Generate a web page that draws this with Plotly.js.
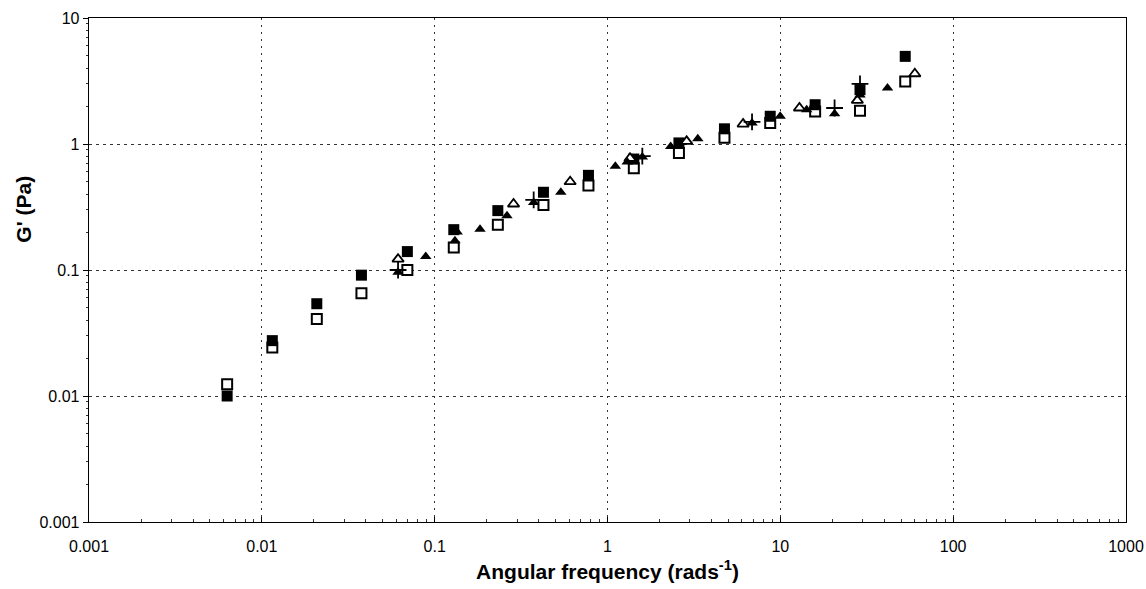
<!DOCTYPE html>
<html>
<head>
<meta charset="utf-8">
<script src="https://cdn.plot.ly/plotly-3.0.1.min.js"></script>
<style>
  html, body { margin: 0; padding: 0; background: #fff; }
  #chart { width: 1146px; height: 589px; }
</style>
</head>
<body>
<div id="chart"></div>
<script>
// Storage modulus G' against angular frequency, five sample runs.
const filledSquareFreq = [0.0063, 0.0115, 0.0208, 0.0377, 0.0695, 0.129, 0.232, 0.426, 0.776, 1.42, 2.59, 4.75, 8.74, 15.9, 28.9, 52.8];
const filledSquareG = [0.0100, 0.0275, 0.054, 0.091, 0.140, 0.209, 0.296, 0.414, 0.564, 0.76, 1.02, 1.32, 1.66, 2.05, 2.70, 4.96];

const openSquareFreq = [0.0063, 0.0115, 0.0208, 0.0377, 0.0695, 0.129, 0.232, 0.426, 0.776, 1.42, 2.59, 4.75, 8.74, 15.9, 28.9, 52.8];
const openSquareG = [0.0124, 0.0243, 0.0408, 0.0653, 0.100, 0.151, 0.229, 0.328, 0.469, 0.641, 0.848, 1.12, 1.47, 1.81, 1.84, 3.14];

const filledTriFreq = [0.0614, 0.0888, 0.131, 0.135, 0.183, 0.262, 0.374, 0.537, 1.11, 1.30, 1.59, 2.32, 3.33, 6.86, 9.98, 14.2, 20.6, 28.9, 41.7];
const filledTriG = [0.096, 0.128, 0.171, 0.200, 0.211, 0.270, 0.344, 0.414, 0.665, 0.72, 0.79, 0.957, 1.10, 1.47, 1.66, 1.87, 1.74, 2.45, 2.78];

const openTriFreq = [0.0614, 0.286, 0.608, 1.35, 2.87, 6.09, 12.9, 27.9, 60.0];
const openTriG = [0.122, 0.334, 0.502, 0.77, 1.05, 1.44, 1.93, 2.22, 3.61];

const plusFreq = [0.0614, 0.374, 1.59, 6.86, 20.6, 28.9];
const plusG = [0.100, 0.360, 0.80, 1.50, 1.93, 3.00];

const xTickVals = [0.001, 0.01, 0.1, 1, 10, 100, 1000];
const xTickText = ['0.001', '0.01', '0.1', '1', '10', '100', '1000'];
const yTickVals = [0.001, 0.01, 0.1, 1, 10];
const yTickText = ['0.001', '0.01', '0.1', '1', '10'];

// minor ticks at 2..9 within each decade
function minorTicks(lo, hi) {
  const out = [];
  for (let e = lo; e < hi; e++) {
    for (let m = 2; m <= 9; m++) out.push(m * Math.pow(10, e));
  }
  return out;
}

const FONT = 'Liberation Sans, Arial, sans-serif';

function series(x, y, symbol, size, fill, lineW) {
  return {
    x: x, y: y, type: 'scatter', mode: 'markers', showlegend: false,
    marker: { symbol: symbol, size: size, color: fill, line: { color: '#000', width: lineW } },
    hoverinfo: 'x+y'
  };
}

const traces = [
  series(openSquareFreq, openSquareG, 'square', 10, '#fff', 2),
  series(filledSquareFreq, filledSquareG, 'square', 11, '#000', 0),
  series(openTriFreq, openTriG, 'triangle-up', 10, '#fff', 1.8),
  series(filledTriFreq, filledTriG, 'triangle-up', 10, '#000', 0),
  series(plusFreq, plusG, 'cross-thin', 12, '#000', 1.8)
];

const layout = {
  width: 1146, height: 589,
  margin: { l: 89, r: 20, t: 18, b: 67 },
  paper_bgcolor: '#fff', plot_bgcolor: '#fff',
  font: { family: FONT, color: '#000', size: 16 },
  xaxis: {
    type: 'log', range: [-3, 3], automargin: false,
    tickmode: 'array', tickvals: xTickVals, ticktext: xTickText,
    ticks: 'inside', ticklen: 5, tickcolor: '#000', tickwidth: 1,
    tickfont: { family: FONT, size: 16, color: '#000' },
    ticklabeloverflow: 'allow', ticklabelstandoff: 9,
    showline: true, linecolor: '#000', linewidth: 1.3, mirror: true,
    showgrid: true, gridcolor: '#333', gridwidth: 1, griddash: '2px,5px',
    zeroline: false,
    minor: { tickvals: minorTicks(-3, 3), ticks: 'inside', ticklen: 3, tickcolor: '#333', showgrid: false },
    title: { text: 'Angular frequency (rads<sup>-1</sup>)', standoff: 10,
             font: { family: FONT, size: 21, color: '#000', weight: 'bold' } }
  },
  yaxis: {
    type: 'log', range: [-3, 1], automargin: false,
    tickmode: 'array', tickvals: yTickVals, ticktext: yTickText,
    ticks: 'outside', ticklen: 5, tickcolor: '#000', tickwidth: 1,
    tickfont: { family: FONT, size: 16, color: '#000' },
    ticklabeloverflow: 'allow',
    showline: true, linecolor: '#000', linewidth: 1.3, mirror: true,
    showgrid: true, gridcolor: '#333', gridwidth: 1, griddash: '3px,4px',
    zeroline: false,
    minor: { tickvals: minorTicks(-3, 1), ticks: 'outside', ticklen: 2, tickcolor: '#333', showgrid: false }
  },
  annotations: [{
    text: "G' (Pa)", textangle: -90, showarrow: false,
    xref: 'paper', yref: 'paper', x: -0.064, y: 0.621,
    xanchor: 'center', yanchor: 'middle',
    font: { family: FONT, size: 21, color: '#000', weight: 'bold' }
  }]
};

Plotly.newPlot('chart', traces, layout, { staticPlot: true, displayModeBar: false });
</script>
</body>
</html>
